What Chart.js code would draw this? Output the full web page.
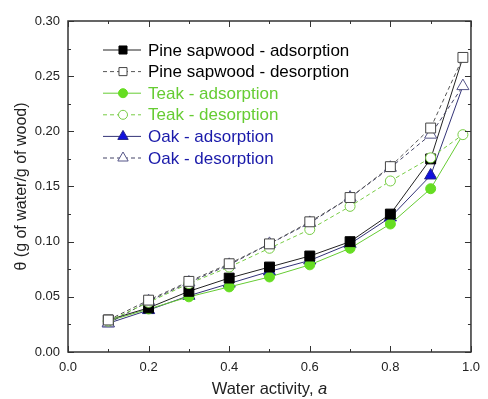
<!DOCTYPE html>
<html>
<head>
<meta charset="utf-8">
<script src="https://cdn.jsdelivr.net/npm/chart.js@4.4.1/dist/chart.umd.min.js"></script>
<style>
  html, body { margin: 0; padding: 0; background: #fff; }
  #wrap { width: 488px; height: 399px; }
</style>
</head>
<body>
<div id="wrap"><canvas id="sorption-chart" width="488" height="399"></canvas></div>
<script>
// water activity values (x)
var waterActivity = [0.1, 0.2, 0.3, 0.4, 0.5, 0.6, 0.7, 0.8, 0.9, 0.98];

// moisture content, g of water / g of wood
var pineAds = [0.029, 0.040, 0.055, 0.067, 0.077, 0.087, 0.100, 0.125, 0.175, 0.267];
var pineDes = [0.029, 0.047, 0.064, 0.080, 0.098, 0.118, 0.140, 0.168, 0.203, 0.267];
var teakAds = [0.028, 0.039, 0.050, 0.059, 0.068, 0.079, 0.094, 0.116, 0.148, 0.197];
var teakDes = [0.028, 0.045, 0.062, 0.077, 0.094, 0.111, 0.132, 0.155, 0.176, 0.197];
var oakAds = [0.026, 0.038, 0.051, 0.062, 0.073, 0.083, 0.098, 0.122, 0.160, 0.241];
var oakDes = [0.026, 0.046, 0.063, 0.079, 0.098, 0.117, 0.140, 0.167, 0.197, 0.241];

var seriesNames = ['Pine sapwood - adsorption', 'Pine sapwood - desorption', 'Teak - adsorption',
  'Teak - desorption', 'Oak - adsorption', 'Oak - desorption'];

var xTicks = [0, 0.2, 0.4, 0.6, 0.8, 1.0];
var yTicks = [0, 0.05, 0.10, 0.15, 0.20, 0.25, 0.30];

var FONT = '"Liberation Sans", Arial, sans-serif';

function toPoints(values) {
  var pts = [];
  for (var i = 0; i < values.length; i++) {
    pts.push({x: waterActivity[i], y: values[i]});
  }
  return pts;
}

// adsorption curves end under the open desorption marker
function adsRadius(r) {
  var radii = [];
  for (var i = 0; i < waterActivity.length; i++) {
    radii.push(i === waterActivity.length - 1 ? 0 : r);
  }
  return radii;
}

var styles = [
  {values: pineAds, line: '#222', fill: '#000', border: '#000', shape: 'rect', r: 7, lr: 5.7, dash: [], text: '#000', ads: true},
  {values: pineDes, line: '#555', fill: '#fff', border: '#444', shape: 'rect', r: 7, lr: 5.7, dash: [4, 3], text: '#000', ads: false},
  {values: teakAds, line: '#66cc33', fill: '#66dd22', border: '#66dd22', shape: 'circle', r: 5, lr: 4.5, dash: [], text: '#66cc33', ads: true},
  {values: teakDes, line: '#77cc44', fill: '#fff', border: '#77cc44', shape: 'circle', r: 5, lr: 4.5, dash: [4, 3], text: '#66cc33', ads: false},
  {values: oakAds, line: '#333377', fill: '#1111dd', border: '#222288', shape: 'triangle', r: 7, lr: 6, dash: [], text: '#1a1aaa', ads: true},
  {values: oakDes, line: '#444466', fill: '#fff', border: '#555588', shape: 'triangle', r: 7, lr: 6, dash: [4, 3], text: '#1a1aaa', ads: false}
];

var datasets = [];
for (var i = 0; i < styles.length; i++) {
  var s = styles[i];
  datasets.push({
    label: seriesNames[i],
    data: toPoints(s.values),
    borderColor: s.line,
    borderWidth: 1,
    borderDash: s.dash,
    pointStyle: s.shape,
    pointRadius: s.ads ? adsRadius(s.r) : s.r,
    pointBackgroundColor: s.fill,
    pointBorderColor: s.border,
    pointBorderWidth: 1,
    tension: 0,
    order: s.ads ? 1 : 0 //open markers on top
  });
}

function drawMarker(ctx, s, x, y) {
  Chart.helpers.drawPoint(ctx, {pointStyle: s.shape, radius: s.lr, borderWidth: 1, rotation: 0}, x, y);
}

// frame, inward ticks, legend and axis titles
var decorPlugin = {
  id: 'decor',
  afterDraw: function(chart) {
    var ctx = chart.ctx;
    var a = chart.chartArea;
    var xs = chart.scales.x;
    var ys = chart.scales.y;
    ctx.save();
    ctx.strokeStyle = '#333';
    ctx.lineWidth = 1.5;
    ctx.strokeRect(a.left, a.top, a.right - a.left, a.bottom - a.top);

    ctx.lineWidth = 1;
    ctx.beginPath();
    for (var k = 0; k <= 10; k++) {
      var px = Math.round(xs.getPixelForValue(k / 10)) + 0.5;
      var len = k % 2 === 0 ? 6 : 3;
      ctx.moveTo(px, a.bottom); ctx.lineTo(px, a.bottom - len);
      ctx.moveTo(px, a.top); ctx.lineTo(px, a.top + len);
    }
    for (var m = 0; m <= 12; m++) {
      var py = Math.round(ys.getPixelForValue(m * 0.025)) + 0.5;
      var ylen = m % 2 === 0 ? 6 : 3;
      ctx.moveTo(a.left, py); ctx.lineTo(a.left + ylen, py);
      ctx.moveTo(a.right, py); ctx.lineTo(a.right - ylen, py);
    }
    ctx.stroke();

    // legend inside the plot
    ctx.font = '17px ' + FONT;
    ctx.textBaseline = 'middle';
    for (var i = 0; i < styles.length; i++) {
      var s = styles[i];
      var ly = 50 + i * 21.6;
      ctx.strokeStyle = s.line;
      ctx.lineWidth = 1;
      ctx.setLineDash(s.dash);
      ctx.beginPath();
      ctx.moveTo(103, ly); ctx.lineTo(141, ly);
      ctx.stroke();
      ctx.setLineDash([]);
      ctx.fillStyle = s.fill;
      ctx.strokeStyle = s.border;
      drawMarker(ctx, s, 123, ly);
      ctx.fillStyle = s.text;
      ctx.textAlign = 'left';
      ctx.fillText(seriesNames[i], 148, ly + 1);
    }

    // x title with italic a
    ctx.fillStyle = '#222';
    var part1 = 'Water activity, ';
    ctx.font = '16.5px ' + FONT;
    var w1 = ctx.measureText(part1).width;
    ctx.font = 'italic 16.5px ' + FONT;
    var w2 = ctx.measureText('a').width;
    var cx = (a.left + a.right) / 2;
    var startX = cx - (w1 + w2) / 2;
    ctx.textAlign = 'left';
    ctx.font = '16.5px ' + FONT;
    ctx.fillText(part1, startX, 389);
    ctx.font = 'italic 16.5px ' + FONT;
    ctx.fillText('a', startX + w1, 389);

    // y title
    ctx.font = '16px ' + FONT;
    ctx.translate(22, (a.top + a.bottom) / 2);
    ctx.rotate(-Math.PI / 2);
    ctx.textAlign = 'center';
    ctx.fillText('\u03b8 (g of water/g of wood)', 0, 0);
    ctx.restore();
  }
};

var ctx = document.getElementById('sorption-chart').getContext('2d');
var sorptionChart = new Chart(ctx, {
  type: 'line',
  data: {datasets: datasets},
  options: {
    responsive: false,
    animation: false,
    layout: {padding: {left: 0, right: 10, top: 21, bottom: 0}},
    plugins: {legend: {display: false}, tooltip: {enabled: false}},
    scales: {
      x: {
        type: 'linear',
        min: 0,
        max: 1,
        afterBuildTicks: function(scale) {
          scale.ticks = xTicks.map(function(v) { return {value: v}; });
        },
        afterFit: function(scale) { scale.height = 47; },
        grid: {display: false, drawTicks: false},
        border: {display: false},
        ticks: {
          padding: 8,
          color: '#222',
          font: {family: FONT, size: 13},
          callback: function(v) { return Number(v).toFixed(1); }
        }
      },
      y: {
        type: 'linear',
        min: 0,
        max: 0.3,
        afterBuildTicks: function(scale) {
          scale.ticks = yTicks.map(function(v) { return {value: v}; });
        },
        afterFit: function(scale) { scale.width = 68; },
        grid: {display: false, drawTicks: false},
        border: {display: false},
        ticks: {
          padding: 8,
          color: '#222',
          font: {family: FONT, size: 13},
          callback: function(v) { return Number(v).toFixed(2); }
        }
      }
    }
  },
  plugins: [decorPlugin]
});
</script>
</body>
</html>
